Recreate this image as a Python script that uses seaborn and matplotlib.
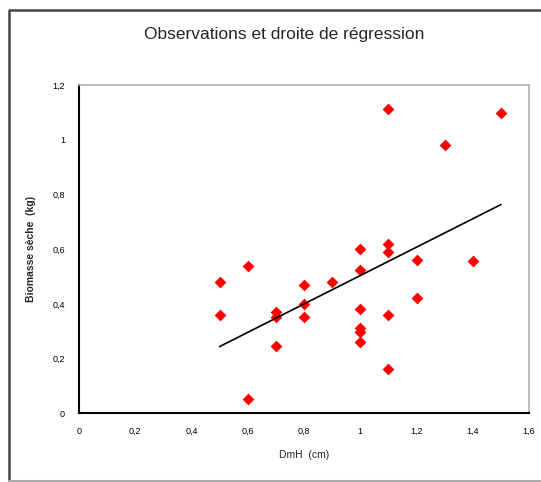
import numpy as np
import pandas as pd
import matplotlib
matplotlib.use("Agg")
import matplotlib.pyplot as plt
from matplotlib.lines import Line2D
from matplotlib.ticker import FuncFormatter
import seaborn as sns

# diametre (cm) and biomass (kg)
dmh = [0.5, 0.5, 0.6, 0.6, 0.7, 0.7, 0.7, 0.8, 0.8, 0.8, 0.9,
       1.0, 1.0, 1.0, 1.0, 1.0, 1.0, 1.1, 1.1, 1.1, 1.1, 1.1,
       1.2, 1.2, 1.3, 1.4, 1.5]
biomasse = [0.48, 0.36, 0.54, 0.05, 0.37, 0.35, 0.245, 0.47, 0.40, 0.35, 0.48,
            0.60, 0.525, 0.38, 0.31, 0.295, 0.26, 1.113, 0.62, 0.59, 0.36, 0.16,
            0.56, 0.42, 0.98, 0.555, 1.097]

df = pd.DataFrame({"dmh": dmh, "biomasse": biomasse})

sns.set_style("white")
plt.rcParams['font.family'] = ['Liberation Sans', 'DejaVu Sans']

fig = plt.figure(figsize=(5.41, 4.82), dpi=100)
ax = fig.add_axes([0.146, 0.143, 0.832, 0.680])

sns.regplot(data=df, x="dmh", y="biomasse", ax=ax, ci=None, truncate=True,
            marker="D",
            scatter_kws={"color": "#ff0000", "s": 36, "linewidths": 0, "alpha": 1},
            line_kws={"color": "black", "lw": 1.2})

ax.set_xlim(0, 1.6)
ax.set_ylim(0, 1.2)
ax.set_xticks(np.arange(0, 1.61, 0.2))
ax.set_yticks(np.arange(0, 1.21, 0.2))
fmt = FuncFormatter(lambda v, p: f"{v:.1f}".replace(".", ",").replace(",0", "") if v else "0")
ax.xaxis.set_major_formatter(fmt)
ax.yaxis.set_major_formatter(fmt)
ax.tick_params(direction="out", length=4, width=1.2, colors="black", labelsize=6.5, pad=6)

for s in ["left", "bottom"]:
    ax.spines[s].set_color("black")
    ax.spines[s].set_linewidth(1.5)
for s in ["top", "right"]:
    ax.spines[s].set_color("#b0b0b0")
    ax.spines[s].set_linewidth(1.2)

ax.set_xlabel("DmH  (cm)", fontsize=7.5, labelpad=10)
ax.set_ylabel("Biomasse sèche  (kg)", fontsize=7.5, fontweight="bold", labelpad=12)
fig.text(0.525, 0.928, "Observations et droite de régression", ha="center", va="center", fontsize=12.5)

# outer chart frame: dark left/top, light bottom, open on the right
fig.lines.append(Line2D([0.016, 0.016, 1.0], [0.0, 0.980, 0.980], transform=fig.transFigure,
                        color="#444444", lw=1.8))
fig.lines.append(Line2D([0.016, 1.0], [0.003, 0.003], transform=fig.transFigure,
                        color="#aaaaaa", lw=1.5))

fig.savefig("out.png", dpi=100)
